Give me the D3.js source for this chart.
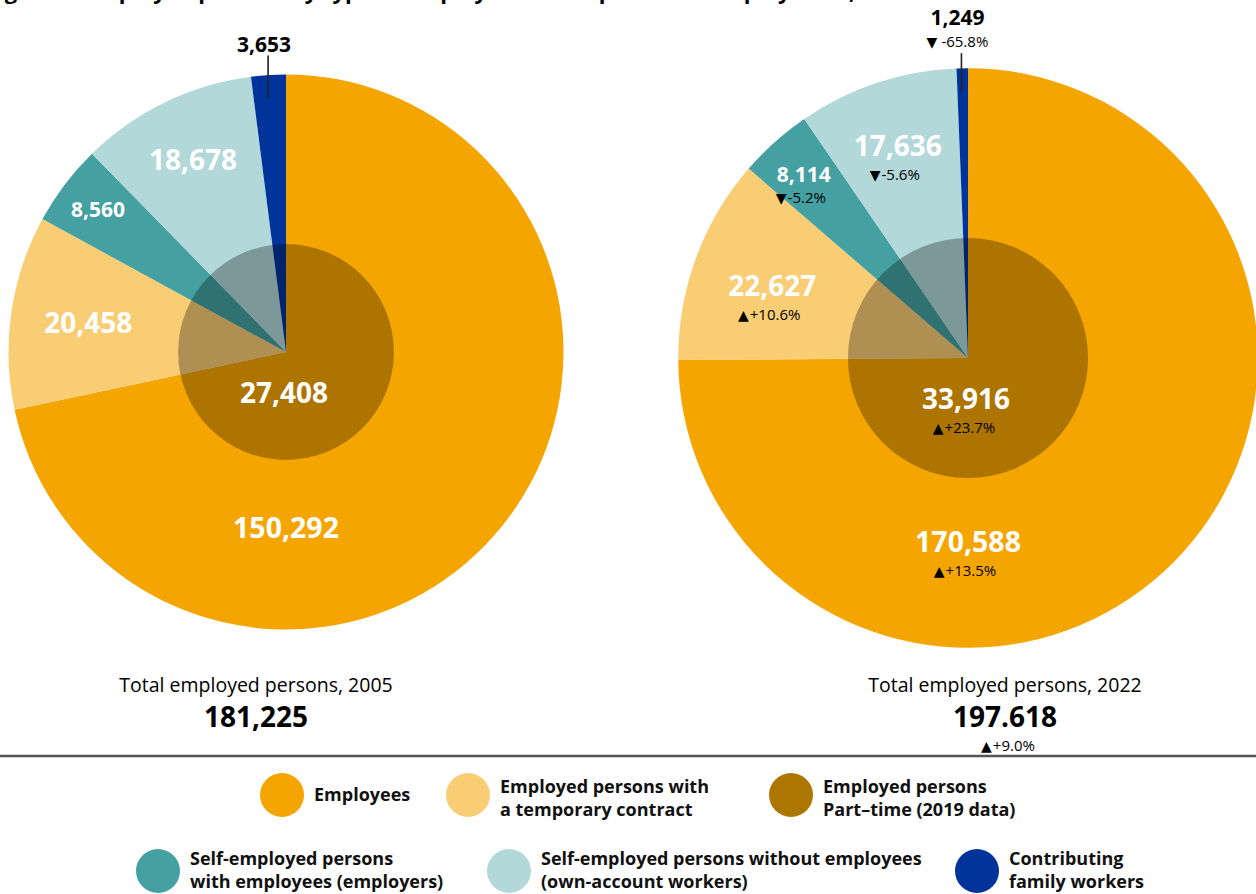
<!DOCTYPE html>
<html>
<head>
<meta charset="utf-8">
<script src="https://cdn.jsdelivr.net/npm/d3@7"></script>
<style>
    html, body { margin: 0; padding: 0; background: #fff; }
    svg { display: block; font-family: "Open Sans", "Noto Sans", sans-serif; }
    .val { fill: #fff; font-weight: 700; text-anchor: middle; }
    .pct { fill: #000; font-size: 15px; text-anchor: middle; }
    .tri { font-family: "DejaVu Sans", sans-serif; font-size: 14px; }
    .legend-text { font-weight: 700; font-size: 18px; fill: #111; }
</style>
</head>
<body>
<svg id="chart" width="1256" height="894"></svg>
<script>
(function() {
    // Data (thousands of persons)
    const years = ["2005", "2022"];
    const categories = [
        "Employees",
        "Employed persons with a temporary contract",
        "Self-employed persons with employees (employers)",
        "Self-employed persons without employees (own-account workers)",
        "Contributing family workers"
    ];
    const employees = [150292, 170588];
    const temporary = [20458, 22627];
    const employers = [8560, 8114];
    const ownAccount = [18678, 17636];
    const familyWorkers = [3653, 1249];
    const partTime = [27408, 33916];
    const totals = [181225, 197618];
    const totalLabels = ["181,225", "197.618"];

    const colors = {
        employees: "#F5A500",
        temporary: "#F9CD74",
        partTime: "#AD7600",
        employers: "#45A0A2",
        ownAccount: "#B2D8D9",
        family: "#00349A"
    };

    const svg = d3.select("#chart");
    const fmt = d3.format(",");
    const pctFmt = v => d3.format("+.1%")(v).replace("\u2212", "-");

    // pie layout geometry
    const centers = [[286, 352], [968, 358]];
    const rScale = d3.scaleSqrt().domain([0, totals[0]]).range([0, 277.5]);

    // title, cut off by the top edge in the original
    svg.append("text")
        .attr("x", -14)
        .attr("y", -1)
        .attr("font-size", 22)
        .attr("font-weight", 700)
        .text("Figure 1: Employed persons by type of employment and part-time employment, 2005 and 2022");

    // pct label: triangle + change
    function pctLabel(parent, x, y, ch, gap) {
        const t = parent.append("text")
            .attr("class", "pct")
            .attr("x", x)
            .attr("y", y);
        t.append("tspan").attr("class", "tri").text(ch < 0 ? "\u25BC" : "\u25B2");
        t.append("tspan").attr("dx", gap || 1).text(pctFmt(ch));
        return t;
    }

    const pie = d3.pie().sort(null).value(d => d.value);

    years.forEach((year, i) => {
        const [cx, cy] = centers[i];
        const R = rScale(totals[i]);
        const slices = [
            { key: "employees", value: employees[i] - temporary[i], label: employees[i], prev: employees[0] },
            { key: "temporary", value: temporary[i], label: temporary[i], prev: temporary[0] },
            { key: "employers", value: employers[i], label: employers[i], prev: employers[0] },
            { key: "ownAccount", value: ownAccount[i], label: ownAccount[i], prev: ownAccount[0] },
            { key: "family", value: familyWorkers[i], label: familyWorkers[i], prev: familyWorkers[0] }
        ];
        const arcs = pie(slices);
        const arc = d3.arc().innerRadius(0).outerRadius(R);

        const g = svg.append("g").attr("transform", `translate(${cx},${cy})`);

        g.selectAll("path.slice")
            .data(arcs)
            .join("path")
            .attr("class", "slice")
            .attr("d", arc)
            .attr("fill", d => colors[d.data.key]);

        // part-time circle, area proportional, darkens what lies under it
        const rIn = rScale(partTime[i]);
        g.append("circle")
            .attr("r", rIn)
            .attr("fill", "#000")
            .attr("fill-opacity", 0.295);

        const showPct = i > 0;
        const labelFactor = { temporary: 0.72, employers: 0.85, ownAccount: 0.77 };
        const labelSize = { employees: 28.5, temporary: 28, employers: 21, ownAccount: 28 };

        arcs.forEach(d => {
            const k = d.data.key;
            if (k === "family") return;
            let x, y;
            if (k === "employees") {
                x = 0; y = 0.635 * R;
            } else {
                const a = (d.startAngle + d.endAngle) / 2;
                const r = labelFactor[k] * R;
                x = r * Math.sin(a);
                y = -r * Math.cos(a);
            }
            const size = labelSize[k];
            g.append("text")
                .attr("class", "val")
                .attr("x", x)
                .attr("y", y)
                .attr("dy", "0.36em")
                .attr("font-size", size)
                .text(fmt(d.data.label));
            if (showPct) {
                pctLabel(g, x - 3, y + (size > 22 ? 34 : 29), d.data.label / d.data.prev - 1);
            }
        });

        // part-time label inside the circle
        g.append("text")
            .attr("class", "val")
            .attr("x", -2)
            .attr("y", 41)
            .attr("dy", "0.36em")
            .attr("font-size", 28)
            .text(fmt(partTime[i]));
        if (showPct) {
            pctLabel(g, -4, 75, partTime[i] / partTime[0] - 1);
        }

        // family workers: label outside with leader line
        const fam = arcs[4];
        const fa = (fam.startAngle + fam.endAngle) / 2;
        const lx = (R - 10) * Math.sin(fa) - 1;
        g.append("line")
            .attr("x1", lx).attr("x2", lx)
            .attr("y1", showPct ? -R - 15 : -R - 19)
            .attr("y2", -R + 24)
            .attr("stroke", "#222")
            .attr("stroke-width", 1.6);
        const famY = showPct ? -R - 51 : -R - 30;
        g.append("text")
            .attr("x", lx - 4)
            .attr("y", famY)
            .attr("dy", "0.36em")
            .attr("text-anchor", "middle")
            .attr("font-size", 21)
            .attr("font-weight", 700)
            .text(fmt(familyWorkers[i]));
        if (showPct) {
            pctLabel(g, lx - 4, famY + 30, familyWorkers[i] / familyWorkers[0] - 1, 4);
        }

        // totals under each pie
        const tx = i === 0 ? cx - 30 : cx + 37;
        svg.append("text")
            .attr("x", tx)
            .attr("y", 692)
            .attr("text-anchor", "middle")
            .attr("font-size", 19.5)
            .text("Total employed persons, " + year);
        svg.append("text")
            .attr("x", tx)
            .attr("y", 727)
            .attr("text-anchor", "middle")
            .attr("font-size", 28)
            .attr("font-weight", 700)
            .text(totalLabels[i]);
        if (showPct) {
            pctLabel(svg, tx + 3, 751, totals[i] / totals[0] - 1);
        }
    });

    // separator
    svg.append("line")
        .attr("x1", 0).attr("x2", 1256)
        .attr("y1", 756).attr("y2", 756)
        .attr("stroke", "#555")
        .attr("stroke-width", 2.5);

    // legend
    const legendItems = [
        { key: "employees", lines: ["Employees"], x: 282, row: 0 },
        { key: "temporary", lines: ["Employed persons with", "a temporary contract"], x: 468, row: 0 },
        { key: "partTime", lines: ["Employed persons", "Part\u2013time (2019 data)"], x: 791, row: 0 },
        { key: "employers", lines: ["Self-employed persons", "with employees (employers)"], x: 158, row: 1 },
        { key: "ownAccount", lines: ["Self-employed persons without employees", "(own-account workers)"], x: 509, row: 1 },
        { key: "family", lines: ["Contributing", "family workers"], x: 977, row: 1 }
    ];
    const rowY = [795, 871];
    const rowBase = [[793, 816], [865, 888]];

    const lg = svg.append("g").attr("class", "legend");
    legendItems.forEach(d => {
        lg.append("circle")
            .attr("cx", d.x)
            .attr("cy", rowY[d.row])
            .attr("r", 22)
            .attr("fill", colors[d.key]);
        const t = lg.append("text").attr("class", "legend-text");
        if (d.lines.length === 1) {
            t.append("tspan").attr("x", d.x + 32).attr("y", rowY[d.row] + 6).text(d.lines[0]);
        } else {
            d.lines.forEach((line, j) => {
                t.append("tspan").attr("x", d.x + 32).attr("y", rowBase[d.row][j]).text(line);
            });
        }
    });
})();
</script>
</body>
</html>
